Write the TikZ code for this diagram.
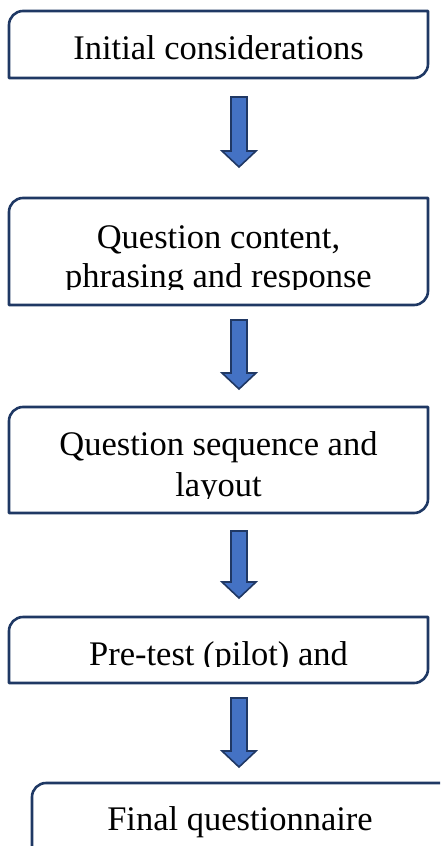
\documentclass[tikz,border=0pt]{standalone}
\usepackage{fontspec}
\setmainfont{Liberation Serif}
\usetikzlibrary{calc}

\definecolor{framenavy}{HTML}{1F3864}
\definecolor{arrowblue}{HTML}{4472C4}
\definecolor{arrowedge}{HTML}{203864}

\newlength\cornerr
\setlength\cornerr{7pt}

% frame with rounded top-left and bottom-right corners only
\newcommand\diagframe[1]{%
  \draw[frame] (#1.south west) -- ([yshift=-\cornerr]#1.north west)
    arc[start angle=180,end angle=90,radius=\cornerr] -- (#1.north east)
    -- ([yshift=\cornerr]#1.south east)
    arc[start angle=0,end angle=-90,radius=\cornerr] -- cycle;}

% block arrow pointing down from #1 (top of shaft) to #2 (tip)
\newcommand\blockdown[2]{%
  \draw[blockarrow] ($(#1)+(-8,0)$) -- ($(#1)+(8,0)$) -- ($(#2)+(8,-16)$)
    -- ($(#2)+(17,-16)$) -- (#2) -- ($(#2)+(-17,-16)$)
    -- ($(#2)+(-8,-16)$) -- cycle;}

\tikzset{
  boxarea/.style={inner sep=0pt, outer sep=0pt},
  frame/.style={draw=framenavy, line width=1.3pt, line join=round},
  blockarrow/.style={fill=arrowblue, draw=arrowedge, line width=0.8pt, line join=miter},
  label/.style={inner sep=0pt, anchor=base, font=\fontsize{17.25pt}{20.5pt}\selectfont},
}

\begin{document}
\begin{tikzpicture}[x=0.5pt, y=-0.5pt]
  \clip (0,0) rectangle (440,846);

  % boxes
  \node[boxarea, minimum width=209.5pt, minimum height=33.5pt] (b1) at (218.5,44.5) {};
  \node[boxarea, minimum width=209.5pt, minimum height=53.5pt] (b2) at (218.5,251.5) {};
  \node[boxarea, minimum width=209.5pt, minimum height=53pt] (b3) at (218.5,460) {};
  \node[boxarea, minimum width=209.5pt, minimum height=33pt] (b4) at (218.5,650) {};
  \node[boxarea, minimum width=208pt, minimum height=58.5pt] (b5) at (240,841.5) {};

  \foreach \b in {b1,b2,b3,b4,b5} {\diagframe{\b}}

  % texts
  \node[label] (t1) at (218.5,59) {Initial considerations};

  \node[label] (t2a) at (218.5,248) {Question content,};
  \begin{scope}
    \clip (9,198) rectangle (428,289);
    \node[label] (t2b) at (218.5,287.5) {phrasing and response};
  \end{scope}

  \node[label] (t3a) at (218.5,455) {Question sequence and};
  \begin{scope}
    \clip (9,407) rectangle (428,498);
    \node[label] (t3b) at (218.5,496) {layout};
  \end{scope}

  \begin{scope}
    \clip (9,617) rectangle (428,666.5);
    \node[label] (t4) at (218.5,665) {Pre-test (pilot) and};
  \end{scope}

  \node[label] (t5) at (240,830) {Final questionnaire};

  % arrows between the stages
  \coordinate (a1s) at (239,97);  \coordinate (a1t) at (239,167);
  \coordinate (a2s) at (239,320); \coordinate (a2t) at (239,389);
  \coordinate (a3s) at (239,531); \coordinate (a3t) at (239,598);
  \coordinate (a4s) at (239,698); \coordinate (a4t) at (239,767);
  \blockdown{a1s}{a1t}
  \blockdown{a2s}{a2t}
  \blockdown{a3s}{a3t}
  \blockdown{a4s}{a4t}
\end{tikzpicture}
\end{document}
